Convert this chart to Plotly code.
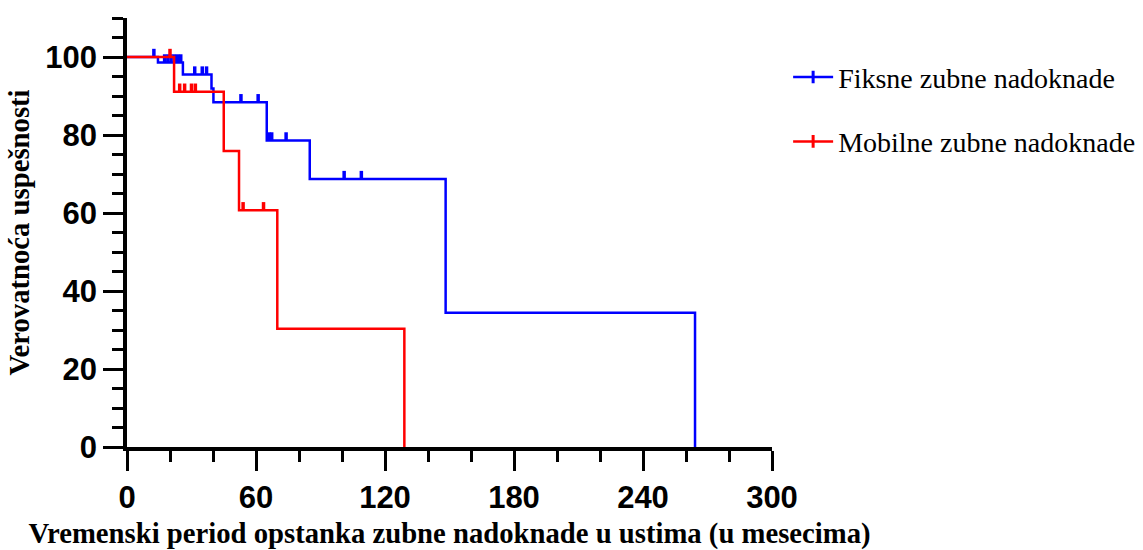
import plotly.graph_objects as go

# Kaplan-Meier step curves (time in months, survival in %)
fiksne_t = [0, 14.4, 26.0, 39.3, 40.2, 65.0, 85.0, 148.2, 264.2]
fiksne_s = [100, 98.6, 95.5, 91.9, 88.4, 78.6, 68.7, 34.4, 0]
mobilne_t = [0, 21.9, 45.0, 52.1, 69.9, 129.0]
mobilne_s = [100, 91.1, 75.9, 60.7, 30.3, 0]

# censored observations (time, survival level at that time)
fiksne_cens_t = [12.5, 17.5, 19.0, 20.5, 22.0, 23.5, 25.0, 31.5, 35.0, 37.0,
                 53.0, 61.0, 66.0, 67.3, 74.0, 101.0, 109.0]
fiksne_cens_s = [100, 98.6, 98.6, 98.6, 98.6, 98.6, 98.6, 95.5, 95.5, 95.5,
                 88.4, 88.4, 78.6, 78.6, 78.6, 68.7, 68.7]
mobilne_cens_t = [20.0, 24.5, 26.8, 30.0, 31.8, 54.0, 63.5]
mobilne_cens_s = [100, 91.1, 91.1, 91.1, 91.1, 60.7, 60.7]

series_names = ["Fiksne zubne nadoknade", "Mobilne zubne nadoknade"]
x_ticks = [0, 60, 120, 180, 240, 300]
y_ticks = [0, 20, 40, 60, 80, 100]

BLUE = "#0000FF"
RED = "#FF0000"
CENSOR_H = 2.1  # height of censor tick, in survival units

fig = go.Figure()


def add_curve(t, s, ct, cs, color, name):
    # survival step line
    fig.add_trace(go.Scatter(
        x=t, y=s, mode="lines", line=dict(color=color, width=2.5, shape="hv"),
        showlegend=False, hoverinfo="skip", cliponaxis=False))
    # censor ticks pointing up from the curve
    fig.add_trace(go.Scatter(
        x=ct, y=cs, mode="markers", marker=dict(size=1, opacity=0),
        error_y=dict(type="data", symmetric=False, array=[CENSOR_H] * len(ct),
                     arrayminus=[0] * len(ct), width=0, thickness=3.5, color=color),
        showlegend=False, hoverinfo="skip", cliponaxis=False))
    # legend entry
    fig.add_trace(go.Scatter(
        x=[None], y=[None], mode="lines+markers", name=name,
        line=dict(color=color, width=2.5),
        marker=dict(symbol="line-ns", size=9, line=dict(color=color, width=3)),
        legendgroup=name))


add_curve(fiksne_t, fiksne_s, fiksne_cens_t, fiksne_cens_s, BLUE, series_names[0])
add_curve(mobilne_t, mobilne_s, mobilne_cens_t, mobilne_cens_s, RED, series_names[1])

tick_font = dict(family="Liberation Sans", size=31, color="black", weight="bold")
title_font = dict(family="Liberation Serif", size=28.7, color="black")

fig.update_layout(
    width=1143, height=550,
    margin=dict(l=127, r=371, t=18, b=103, autoexpand=False),
    plot_bgcolor="white", paper_bgcolor="white",
    legend=dict(x=1.025, y=0.92, xanchor="left", yanchor="top",
                font=dict(family="Liberation Serif", size=28, color="black"),
                tracegroupgap=25, traceorder="grouped",
                itemwidth=40, bgcolor="rgba(0,0,0,0)"),
    xaxis=dict(
        range=[0, 300], tickvals=x_ticks, ticktext=[str(v) for v in x_ticks],
        ticks="outside", ticklen=20, tickwidth=3, tickcolor="black",
        showline=True, linewidth=3.5, linecolor="black", showgrid=False,
        zeroline=False, tickfont=tick_font, automargin=False,
        minor=dict(dtick=20, tick0=0, ticks="outside", ticklen=11,
                   tickwidth=3, tickcolor="black", showgrid=False),
        title=dict(text="<b>Vremenski period opstanka zubne nadoknade u ustima (u mesecima)</b>",
                   font=title_font, standoff=17),
    ),
    yaxis=dict(
        range=[0, 110], tickvals=y_ticks, ticktext=[str(v) for v in y_ticks],
        ticks="outside", ticklen=20, tickwidth=3, tickcolor="black",
        showline=True, linewidth=3.5, linecolor="black", showgrid=False,
        zeroline=False, tickfont=tick_font, automargin=False,
        minor=dict(dtick=5, tick0=0, ticks="outside", ticklen=11,
                   tickwidth=3, tickcolor="black", showgrid=False),
        title=dict(text="<b>Verovatnoća uspešnosti</b>", font=title_font, standoff=8),
    ),
)

fig.write_html("out.html")
